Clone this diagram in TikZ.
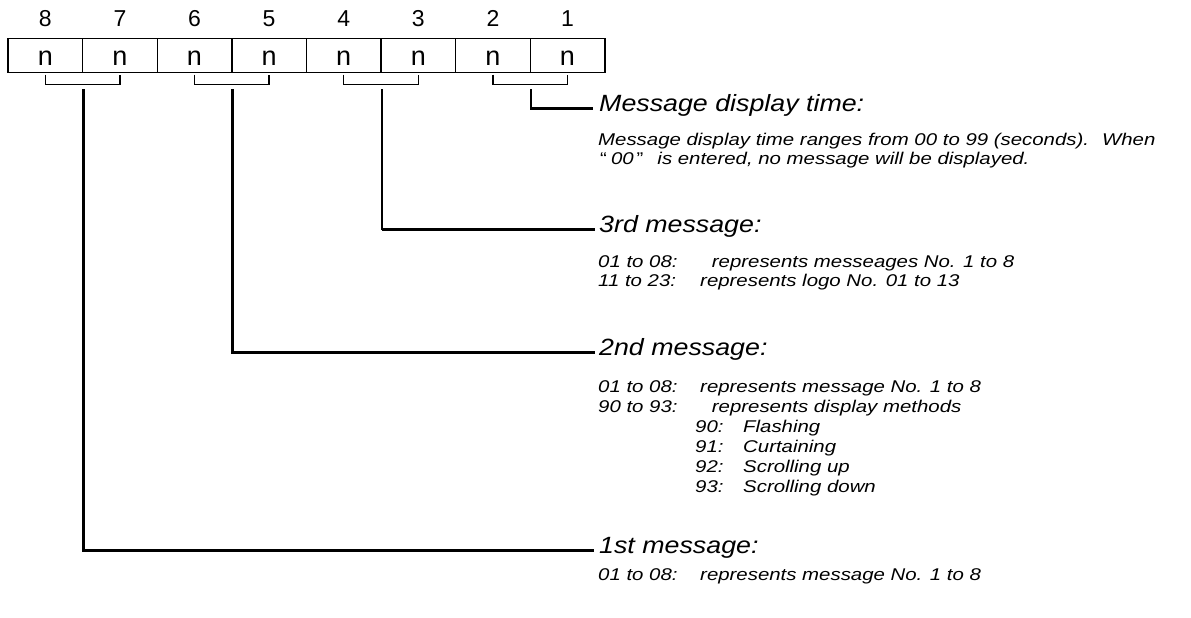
\documentclass[tikz,border=0pt]{standalone}
\usepackage{fontspec}
\setmainfont{Liberation Sans}
\newfontfamily\headfont[FakeStretch=1.14]{Liberation Sans}
\newfontfamily\subfont[FakeStretch=1.2]{Liberation Sans}
\usetikzlibrary{calc}
\begin{document}
\begin{tikzpicture}[x=1pt,y=-1pt,
  cell/.style={draw, line width=1.4pt, minimum width=74.6pt, minimum height=34pt, inner sep=0pt, anchor=north west},
  nglyph/.style={font=\fontsize{27}{27}\selectfont, anchor=base, inner sep=0pt},
  digit/.style={font=\fontsize{23}{23}\selectfont, anchor=base, inner sep=0pt},
  head/.style={font=\headfont\itshape\fontsize{23.5}{24}\selectfont, anchor=base west, inner sep=0pt},
  sub/.style={font=\subfont\itshape\fontsize{17}{20}\selectfont, anchor=base west, inner sep=0pt},
  brk/.style={line width=1.3pt},
  conn/.style={line width=2.5pt},
  thinconn/.style={line width=1.6pt},
]
\useasboundingbox (0,0) rectangle (1191,618);

% register cells
\foreach \d [count=\i from 0] in {8,7,6,5,4,3,2,1} {
  \node[cell] (c\d) at ({7.3+\i*74.6},37.7) {};
  \node[nglyph] (n\d) at ($(c\d.north)+(0,28)$) {n};
  \node[digit] (d\d) at ($(c\d.north)+(0,-11.5)$) {\d};
}

% brackets under pairs
\foreach \a/\b in {8/7,6/5,4/3,2/1} {
  \draw[brk] ($(c\a.south)+(0,1.5)$) -- ($(c\a.south)+(0,11.3)$) -| ($(c\b.south)+(0,1.5)$);
}

% Message display time
\node[head] (h1) at (599,111) {Message display time:};
\node[sub] (t1a) at (598,145) {Message display time ranges from 00 to 99 (seconds).\hspace{13pt}When};
\node[sub] (t1b) at (598,164.7) {\hspace{2pt}{\upshape “}\hspace{4pt}00\hspace{3pt}{\upshape ”}\hspace{14pt}is entered, no message will be displayed.};

% 3rd message
\node[head] (h3) at (599,232.5) {3rd message:};
\node[sub] (l3a) at (598,267) {01 to 08:};
\node[sub] (r3a) at (711.7,267) {represents messeages No. 1 to 8};
\node[sub] (l3b) at (598,286.7) {11 to 23:};
\node[sub] (r3b) at (700,286.7) {represents logo No. 01 to 13};

% 2nd message
\node[head] (h2) at (599,355) {2nd message:};
\node[sub] (l2a) at (598,392) {01 to 08:};
\node[sub] (r2a) at (700,392) {represents message No. 1 to 8};
\node[sub] (l2b) at (598,412) {90 to 93:};
\node[sub] (r2b) at (711.7,412) {represents display methods};
\node[sub] (k90) at (695,432) {90:};
\node[sub] (m90) at (743,432) {Flashing};
\node[sub] (k91) at (695,452) {91:};
\node[sub] (m91) at (743,452) {Curtaining};
\node[sub] (k92) at (695,472) {92:};
\node[sub] (m92) at (743,472) {Scrolling up};
\node[sub] (k93) at (695,492) {93:};
\node[sub] (m93) at (743,492) {Scrolling down};

% 1st message
\node[head] (h4) at (599,553) {1st message:};
\node[sub] (l4a) at (598,580) {01 to 08:};
\node[sub] (r4a) at (700,580) {represents message No. 1 to 8};

% connectors
\coordinate (v1) at ($(c2.south east)+(0,16.3)$);
\coordinate (e1) at ($(h1.base west)+(-6,-2.5)$);
\draw[conn] (v1) |- (e1);

\coordinate (v3) at ($(c4.south east)+(0,16.3)$);
\coordinate (e3) at ($(h3.base west)+(-4,-3)$);
\coordinate (k3) at (v3 |- e3);
\draw[thinconn] (v3) -- (k3);
\draw[conn] (k3) -- (e3);

\coordinate (v2) at ($(c6.south east)+(0,16.3)$);
\coordinate (e2) at ($(h2.base west)+(-4,-2.5)$);
\draw[conn] (v2) |- (e2);

\coordinate (v4) at ($(c8.south east)+(0,16.3)$);
\coordinate (e4) at ($(h4.base west)+(-5,-2.5)$);
\draw[conn] (v4) |- (e4);
\end{tikzpicture}
\end{document}
